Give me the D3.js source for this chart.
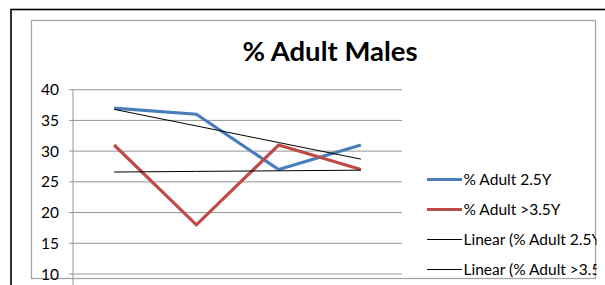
<!DOCTYPE html>
<html>
<head>
<meta charset="utf-8">
<script src="https://cdn.jsdelivr.net/npm/d3@7"></script>
<style>
  body { margin: 0; background: #fff; }
  svg { display: block; }
  text { font-family: Lato, "Liberation Sans", sans-serif; }
</style>
</head>
<body>
<div id="chart"></div>
<script>
// categories (unlabelled in the original) and series
const categories = ["1", "2", "3", "4"];
const adult25 = [37, 36, 27, 31];
const adult35 = [31, 18, 31, 27];
const yTicks = [10, 15, 20, 25, 30, 35, 40];
const seriesNames = ["% Adult 2.5Y", "% Adult >3.5Y", "Linear (% Adult 2.5Y)", "Linear (% Adult >3.5Y)"];

const width = 605, height = 285;

const svg = d3.select("#chart").append("svg")
    .attr("width", width)
    .attr("height", height);

// legend text gets cut at the chart area edge, like the original
svg.append("clipPath").attr("id", "area-clip")
    .append("rect")
    .attr("x", 31.5).attr("y", 20.5)
    .attr("width", 565).attr("height", 258);

// outer frame and chart area frame
svg.append("rect")
    .attr("x", 11).attr("y", 9.5)
    .attr("width", 700).attr("height", 400)
    .attr("fill", "none").attr("stroke", "#000").attr("stroke-width", 1.6);
svg.append("rect")
    .attr("x", 31.5).attr("y", 20.5)
    .attr("width", 564).attr("height", 258)
    .attr("fill", "none").attr("stroke", "#a6a6a6").attr("stroke-width", 1.3);

// plot area
const plot = { left: 73, right: 402, top: 89.7 };
const x = d3.scaleBand().domain(categories).range([plot.left, plot.right]);
const y = d3.scaleLinear().domain([10, 40]).range([274, plot.top]);

const g = svg.append("g");

// gridlines
g.selectAll("line.grid")
    .data(yTicks)
    .join("line")
    .attr("class", "grid")
    .attr("x1", plot.left - 4).attr("x2", plot.right)
    .attr("y1", d => y(d)).attr("y2", d => y(d))
    .attr("stroke", "#959595").attr("stroke-width", 1);

// vertical axis
g.append("line")
    .attr("x1", plot.left).attr("x2", plot.left)
    .attr("y1", y(40)).attr("y2", 290)
    .attr("stroke", "#959595").attr("stroke-width", 1);

g.selectAll("text.tick")
    .data(yTicks)
    .join("text")
    .attr("class", "tick")
    .attr("x", 59)
    .attr("y", d => y(d) + 5.5)
    .attr("text-anchor", "end")
    .attr("font-size", 15.5)
    .attr("fill", "#000")
    .text(d => d);

// linear trend
function trend(vals) {
    const xs = vals.map((v, i) => i + 1);
    const mx = d3.mean(xs), my = d3.mean(vals);
    const slope = d3.sum(xs, (xi, i) => (xi - mx) * (vals[i] - my)) / d3.sum(xs, xi => (xi - mx) ** 2);
    return vals.map((v, i) => my + slope * (xs[i] - mx));
}

const line = d3.line()
    .x((d, i) => x(categories[i]) + x.bandwidth() / 2)
    .y(d => y(d));

const series = [
    { vals: adult25, color: "#4a7ebb", w: 3.2 },
    { vals: adult35, color: "#be4b48", w: 3.2 }
];

g.selectAll("path.series")
    .data(series)
    .join("path")
    .attr("class", "series")
    .attr("d", d => line(d.vals))
    .attr("fill", "none")
    .attr("stroke", d => d.color)
    .attr("stroke-width", d => d.w)
    .attr("stroke-linejoin", "miter");

g.selectAll("path.trend")
    .data([trend(adult25), trend(adult35)])
    .join("path")
    .attr("class", "trend")
    .attr("d", d => line(d))
    .attr("fill", "none")
    .attr("stroke", "#000")
    .attr("stroke-width", 1);

// title
svg.append("text")
    .attr("x", 330)
    .attr("y", 61)
    .attr("text-anchor", "middle")
    .attr("font-size", 27.5)
    .attr("font-weight", "bold")
    .text("% Adult Males");

// legend
const legendStyles = [
    { color: "#4a7ebb", w: 3.2 },
    { color: "#be4b48", w: 3.2 },
    { color: "#000", w: 1 },
    { color: "#000", w: 1 }
];
const legend = svg.append("g")
    .attr("clip-path", "url(#area-clip)")
    .selectAll("g")
    .data(seriesNames)
    .join("g")
    .attr("transform", (d, i) => `translate(427, ${179.5 + i * 30})`);

legend.append("line")
    .attr("x1", 0).attr("x2", 35)
    .attr("stroke", (d, i) => legendStyles[i].color)
    .attr("stroke-width", (d, i) => legendStyles[i].w);

legend.append("text")
    .attr("x", 36.5)
    .attr("y", 5.5)
    .attr("font-size", 15.5)
    .text(d => d);
</script>
</body>
</html>
